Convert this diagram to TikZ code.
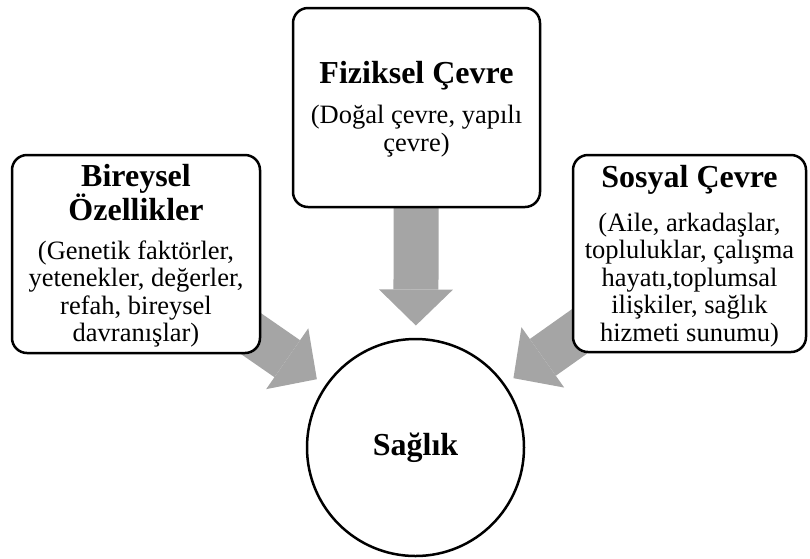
\documentclass[tikz,border=0pt]{standalone}
\usepackage{fontspec}
\setmainfont{Liberation Serif}
\usetikzlibrary{arrows.meta,calc}
\definecolor{arrowgray}{HTML}{A5A5A5}
\tikzset{
  boxnode/.style={draw=black, line width=2.5pt, rounded corners=15pt, fill=white, inner sep=0pt},
  ttl/.style={font=\fontsize{32}{34}\selectfont\bfseries, align=center, inner sep=0pt},
  sub/.style={font=\fontsize{26.5}{27.5}\selectfont, align=center, inner sep=0pt},
  blockarrow/.style={draw=arrowgray, line width=45pt,
    -{Triangle[line width=0pt, width=74pt, length=36pt, fill=arrowgray]}}
}
\begin{document}
\begin{tikzpicture}[x=1pt,y=-1pt]
\useasboundingbox (0,0) rectangle (810,558);
% anchor coordinates
\coordinate (cc) at (415.5,447.5);
\coordinate (lc) at (136,254);
\coordinate (tc) at (416.5,107.5);
\coordinate (rc) at (689.5,253.5);
\coordinate (ltip) at ($(cc)!120pt!(lc)$);
\coordinate (ttip) at ($(cc)!122pt!(tc)$);
\coordinate (rtip) at ($(cc)!120pt!(rc)$);
% arrows (behind boxes)
\draw[blockarrow] (lc) -- (ltip);
\draw[blockarrow] (tc) -- (ttip);
\draw[blockarrow] (rc) -- (rtip);
% boxes
\node[boxnode, minimum width=248pt, minimum height=198pt] (bireysel) at (lc) {};
\node[boxnode, minimum width=247pt, minimum height=199pt] (fiziksel) at (tc) {};
\node[boxnode, minimum width=233pt, minimum height=197pt] (sosyal) at (rc) {};
\node[draw=black, line width=2.5pt, circle, fill=white, minimum size=217pt, inner sep=0pt,
      font=\fontsize{32}{33}\selectfont\bfseries] (saglik) at (cc) {Sağlık};
% texts
\node[ttl] (bt) at (136,193) {Bireysel\\Özellikler};
\node[sub] (bs) at (136,294) {(Genetik faktörler,\\yetenekler, değerler,\\refah, bireysel\\davranışlar)};
\node[ttl] (ft) at (416.5,76) {Fiziksel Çevre};
\node[sub] (fs) at (416.5,131) {(Doğal çevre, yapılı\\çevre)};
\node[ttl] (st) at (689.5,180) {Sosyal Çevre};
\node[sub] (ss) at (689.5,280) {(Aile, arkadaşlar,\\topluluklar, çalışma\\hayatı,toplumsal\\ilişkiler, sağlık\\hizmeti sunumu)};
\end{tikzpicture}
\end{document}
